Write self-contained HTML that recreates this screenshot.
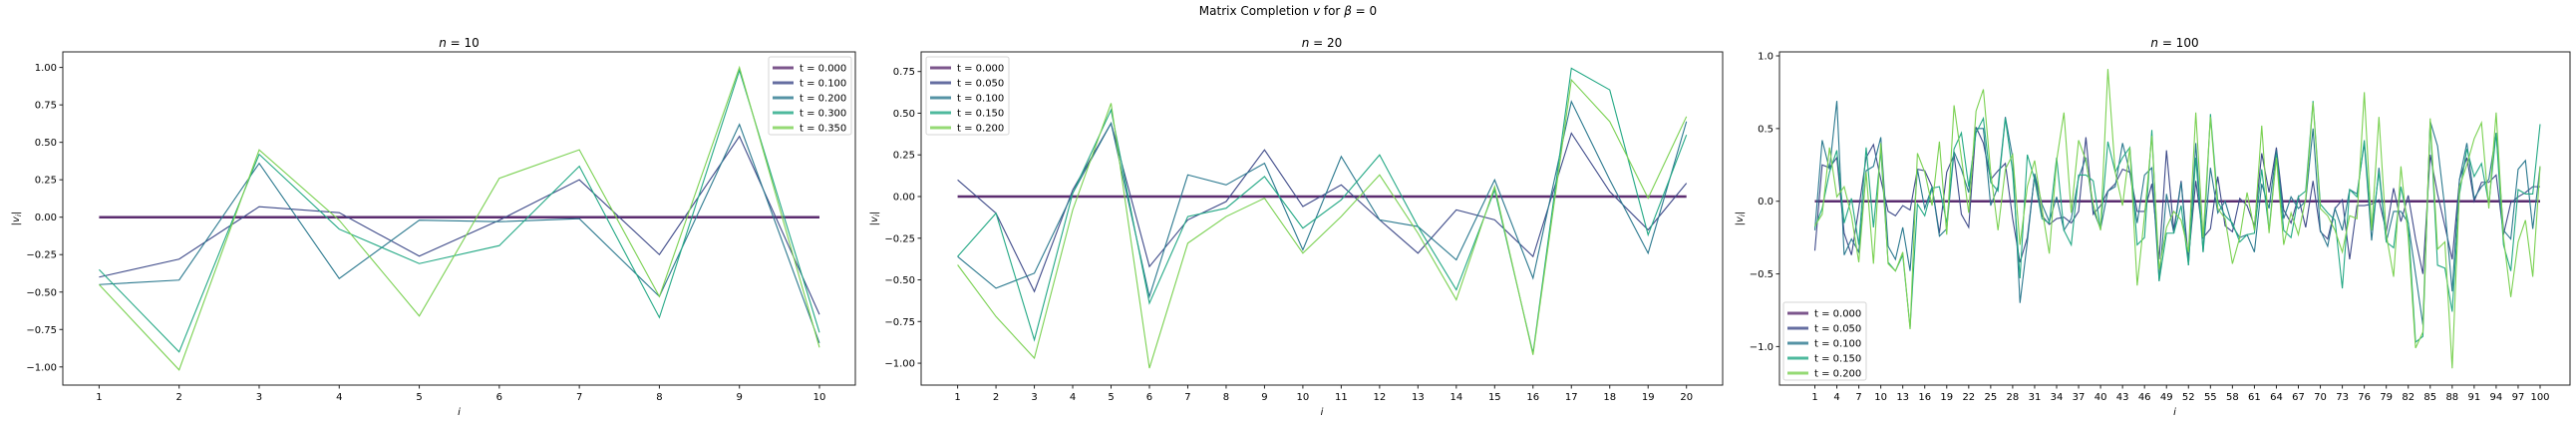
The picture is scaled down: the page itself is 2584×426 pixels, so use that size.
<!DOCTYPE html>
<html><head><meta charset="utf-8"><style>
html,body{margin:0;padding:0;background:#fff;}
svg{display:block;font-family:"DejaVu Sans","Liberation Sans",sans-serif;}
</style></head><body>
<svg id="fig" width="2584" height="426" viewBox="0 0 2584 426" xmlns="http://www.w3.org/2000/svg">
<text x="1292" y="15" font-size="12" text-anchor="middle">Matrix Completion <tspan font-style="italic">v</tspan> for <tspan font-style="italic">β</tspan> = 0</text>
</svg>
<script>
// ---------- data ----------
const colors = ["#5b2c6f","#3e4a89","#2a788e","#22a884","#7ad151"];
const p1Labels = ["t = 0.000","t = 0.100","t = 0.200","t = 0.300","t = 0.350"];
const p1Cats = [1,2,3,4,5,6,7,8,9,10];
const p1S0 = [0,0,0,0,0,0,0,0,0,0];
const p1S1 = [-0.40,-0.28,0.07,0.03,-0.26,-0.02,0.25,-0.25,0.54,-0.65];
const p1S2 = [-0.45,-0.42,0.36,-0.41,-0.02,-0.03,-0.01,-0.53,0.62,-0.84];
const p1S3 = [-0.35,-0.90,0.42,-0.08,-0.31,-0.19,0.34,-0.67,0.98,-0.77];
const p1S4 = [-0.45,-1.02,0.45,-0.02,-0.66,0.26,0.45,-0.53,1.00,-0.87];
const p1YTicks = [1.00,0.75,0.50,0.25,0.00,-0.25,-0.50,-0.75,-1.00];
const p1YTickLabels = ["1.00","0.75","0.50","0.25","0.00","−0.25","−0.50","−0.75","−1.00"];

const p2Labels = ["t = 0.000","t = 0.050","t = 0.100","t = 0.150","t = 0.200"];
const p2Cats = [1,2,3,4,5,6,7,8,9,10,11,12,13,14,15,16,17,18,19,20];
const p2S0 = [0,0,0,0,0,0,0,0,0,0,0,0,0,0,0,0,0,0,0,0];
const p2S1 = [0.10,-0.10,-0.57,0.04,0.44,-0.42,-0.14,-0.03,0.28,-0.06,0.07,-0.14,-0.34,-0.08,-0.14,-0.36,0.38,0.03,-0.20,0.08];
const p2S2 = [-0.36,-0.55,-0.46,0.02,0.44,-0.60,0.13,0.07,0.20,-0.32,0.24,-0.14,-0.18,-0.38,0.10,-0.49,0.57,0.10,-0.34,0.45];
const p2S3 = [-0.36,-0.10,-0.86,0.02,0.52,-0.64,-0.12,-0.07,0.12,-0.19,-0.02,0.25,-0.18,-0.56,0.04,-0.94,0.77,0.64,-0.23,0.37];
const p2S4 = [-0.41,-0.72,-0.97,-0.08,0.56,-1.03,-0.28,-0.12,-0.01,-0.34,-0.12,0.13,-0.22,-0.62,0.06,-0.95,0.70,0.45,-0.01,0.48];
const p2YTicks = [0.75,0.50,0.25,0.00,-0.25,-0.50,-0.75,-1.00];
const p2YTickLabels = ["0.75","0.50","0.25","0.00","−0.25","−0.50","−0.75","−1.00"];

const p3Labels = ["t = 0.000","t = 0.050","t = 0.100","t = 0.150","t = 0.200"];
const p3S0 = new Array(100).fill(0);
const p3S1 = [-0.34,0.25,0.23,0.30,-0.22,-0.37,-0.05,0.30,0.39,0.15,-0.07,-0.10,-0.03,-0.06,0.22,0.21,0.10,-0.22,0.20,0.32,-0.09,-0.18,0.51,0.40,0.15,0.21,0.26,-0.12,-0.42,-0.25,0.18,-0.10,-0.16,-0.12,-0.11,-0.15,-0.07,0.44,-0.09,-0.03,0.07,0.12,0.22,0.20,-0.07,-0.07,0.12,-0.40,0.35,-0.20,0.14,-0.40,0.14,-0.25,-0.19,0.17,-0.17,-0.21,0.02,-0.03,-0.17,0.33,0.06,0.37,-0.06,-0.15,0.03,-0.18,0.14,-0.21,-0.26,-0.05,0.01,-0.40,-0.03,-0.03,-0.02,0.01,-0.21,0.09,-0.14,0.04,-0.26,-0.50,0.32,0.05,-0.17,-0.40,0.15,0.30,0.00,0.13,0.13,0.18,-0.23,-0.01,0.03,0.06,0.10,0.10];
const p3S2 = [-0.20,0.42,0.22,0.69,-0.37,-0.26,-0.35,0.21,0.24,0.44,-0.31,-0.40,-0.18,-0.48,0.22,-0.05,0.10,-0.24,-0.19,0.34,0.22,0.06,0.50,0.50,-0.03,0.10,0.58,0.30,-0.70,-0.28,0.19,-0.02,-0.14,0.03,-0.20,-0.12,0.16,0.30,-0.06,-0.19,0.07,0.10,0.40,0.20,-0.15,0.18,0.23,-0.55,0.05,-0.22,0.13,-0.44,0.40,-0.35,0.23,-0.08,0.00,-0.17,-0.25,-0.23,-0.35,0.12,-0.05,0.35,-0.12,0.03,-0.05,0.00,0.50,-0.20,-0.31,-0.05,-0.20,0.08,0.05,0.40,-0.27,0.23,-0.28,-0.07,-0.07,-0.15,-0.50,-0.85,0.55,0.38,-0.05,-0.62,0.15,0.40,0.02,0.10,0.15,0.47,-0.20,-0.26,0.22,0.28,-0.19,0.24];
const p3S3 = [-0.18,-0.05,0.20,0.35,-0.15,0.02,-0.30,0.37,-0.18,0.35,-0.42,-0.48,-0.37,-0.87,-0.02,-0.10,0.09,0.10,-0.15,0.36,0.47,0.10,0.47,0.57,0.13,0.07,0.57,0.20,-0.53,0.32,0.15,-0.12,-0.15,0.30,-0.20,-0.30,0.18,0.18,0.14,-0.19,0.41,0.20,0.30,0.37,-0.30,-0.25,0.49,-0.55,-0.22,-0.22,-0.03,-0.44,0.30,-0.35,0.60,0.00,-0.10,-0.15,-0.28,-0.23,-0.22,0.22,-0.20,0.32,-0.20,-0.25,0.03,0.07,0.69,-0.02,-0.08,-0.13,-0.60,0.08,0.03,0.42,-0.20,0.20,-0.28,-0.32,0.10,-0.15,-0.97,-0.93,0.55,-0.44,-0.46,-0.76,0.05,0.36,0.17,0.26,-0.02,0.47,-0.30,-0.48,0.08,0.05,0.05,0.53];
const p3S4 = [-0.17,-0.09,0.37,0.03,0.10,-0.10,-0.42,0.20,-0.43,0.40,-0.43,-0.48,-0.35,-0.88,0.33,0.20,-0.03,0.41,-0.23,0.66,0.30,-0.08,0.62,0.77,0.20,-0.20,0.22,0.32,-0.30,0.10,0.28,-0.05,-0.36,0.28,0.61,-0.08,0.42,0.28,-0.02,-0.20,0.91,0.20,-0.03,0.37,-0.58,-0.10,0.45,-0.47,-0.18,-0.07,-0.13,-0.35,0.61,-0.25,0.58,-0.05,-0.12,-0.43,-0.25,0.06,-0.20,0.52,-0.22,0.30,-0.30,-0.08,-0.23,0.02,0.68,-0.05,-0.10,-0.20,-0.35,-0.10,-0.12,0.75,-0.20,0.58,-0.23,-0.52,0.24,-0.25,-1.01,-0.90,0.57,-0.33,-0.28,-1.15,0.10,0.25,0.43,0.54,-0.05,0.61,-0.25,-0.66,-0.28,-0.13,-0.52,0.24];
const p3YTicks = [1.0,0.5,0.0,-0.5,-1.0];
const p3YTickLabels = ["1.0","0.5","0.0","−0.5","−1.0"];
const p3XTicks = [1,4,7,10,13,16,19,22,25,28,31,34,37,40,43,46,49,52,55,58,61,64,67,70,73,76,79,82,85,88,91,94,97,100];

// ---------- drawing ----------
const NS = "http://www.w3.org/2000/svg";
const svg = document.getElementById("fig");
function mk(tag, attrs, parent){ const e=document.createElementNS(NS,tag); for(const k in attrs) e.setAttribute(k,attrs[k]); (parent||svg).appendChild(e); return e; }

function panel(cfg){
  const g = mk("g",{});
  
  
  const {L,R,T,B,x0,x1,xMin,xMax,y0v,y0p,y1v,y1p} = cfg;
  const sx = v => x0 + (v - xMin)/(xMax - xMin)*(x1 - x0);
  const sy = v => y0p + (v - y0v)/(y1v - y0v)*(y1p - y0p);
  const t = mk("text",{x:(L+R)/2,y:T-5,"font-size":12,"text-anchor":"middle"},g);
  
  
  t.innerHTML = '<tspan font-style="italic">n</tspan> = '+cfg.n;
  cfg.series.forEach((s,k)=>{
    const pts = s.map((v,i)=> sx(cfg.cats[i]).toFixed(2)+","+sy(v).toFixed(2)).join(" ");
    const pl = mk("polyline",{points:pts,fill:"none",stroke:colors[k],"stroke-width":k===0?2.5:1.1,"stroke-linejoin":"miter"},g);
    
    
  });
  const fr = mk("rect",{x:L,y:T,width:R-L,height:B-T,fill:"none",stroke:"#222","stroke-width":1},g);
  
  
  cfg.yTicks.forEach((v,i)=>{
    const y = sy(v);
    mk("line",{x1:L-3.5,x2:L,y1:y,y2:y,stroke:"#222"},g);
    const tl = mk("text",{x:L-6,y:y+3.5,"font-size":10,"text-anchor":"end"},g);
    
    
    tl.textContent = cfg.yTickLabels[i];
  });
  cfg.xTicks.forEach(v=>{
    const x = sx(v);
    mk("line",{x1:x,x2:x,y1:B,y2:B+3.5,stroke:"#222"},g);
    const tl = mk("text",{x:x,y:B+15,"font-size":10,"text-anchor":"middle"},g);
    
    
    tl.textContent = String(v);
  });
  const xl = mk("text",{x:(L+R)/2,y:B+30,"font-size":10,"text-anchor":"middle","font-style":"italic"},g);
  
  
  xl.textContent = "i";
  const yl = mk("text",{x:0,y:0,"font-size":10,"text-anchor":"middle",transform:"translate("+(L-cfg.ylOff)+","+((T+B)/2)+") rotate(-90)"},g);
  
  
  yl.innerHTML = '|<tspan font-style="italic">v</tspan><tspan font-size="7" font-style="italic" dy="2">i</tspan><tspan dy="-2">|</tspan>';
  const lg = mk("g",{},g);
  
  
  const [lx,ly] = cfg.legendPos;
  mk("rect",{x:lx,y:ly,width:83,height:78,rx:2,fill:"#fff","fill-opacity":0.85,stroke:"#d6d6d6"},lg);
  cfg.labels.forEach((lab,k)=>{
    const yy = ly + 11 + k*15;
    const e = mk("g",{},lg);
    
    
    mk("line",{x1:lx+4,x2:lx+25,y1:yy,y2:yy,stroke:colors[k],"stroke-width":3,"stroke-opacity":0.8},e);
    const tx = mk("text",{x:lx+31,y:yy+3.5,"font-size":10},e);
    tx.textContent = lab;
  });
}

panel({name:"panel-n10",n:10,L:63,R:858,T:52,B:386,x0:99.4,x1:822,xMin:1,xMax:10,
  y0v:0,y0p:217.7,y1v:1,y1p:67.6,cats:p1Cats,series:[p1S0,p1S1,p1S2,p1S3,p1S4],
  yTicks:p1YTicks,yTickLabels:p1YTickLabels,xTicks:p1Cats,labels:p1Labels,legendPos:[771,57],ylOff:44});
panel({name:"panel-n20",n:20,L:924,R:1728,T:52,B:386,x0:960.6,x1:1691.7,xMin:1,xMax:20,
  y0v:0,y0p:197,y1v:0.75,y1p:71.7,cats:p2Cats,series:[p2S0,p2S1,p2S2,p2S3,p2S4],
  yTicks:p2YTicks,yTickLabels:p2YTickLabels,xTicks:p2Cats,labels:p2Labels,legendPos:[929,57],ylOff:44});
const p3Cats = p3S0.map((_,i)=>i+1);
panel({name:"panel-n100",n:100,L:1785,R:2578,T:52,B:386,x0:1820.5,x1:2548,xMin:1,xMax:100,
  y0v:0,y0p:201.7,y1v:1,y1p:56,cats:p3Cats,series:[p3S0,p3S1,p3S2,p3S3,p3S4],
  yTicks:p3YTicks,yTickLabels:p3YTickLabels,xTicks:p3XTicks,labels:p3Labels,legendPos:[1789,303],ylOff:37});
</script>
</body></html>
